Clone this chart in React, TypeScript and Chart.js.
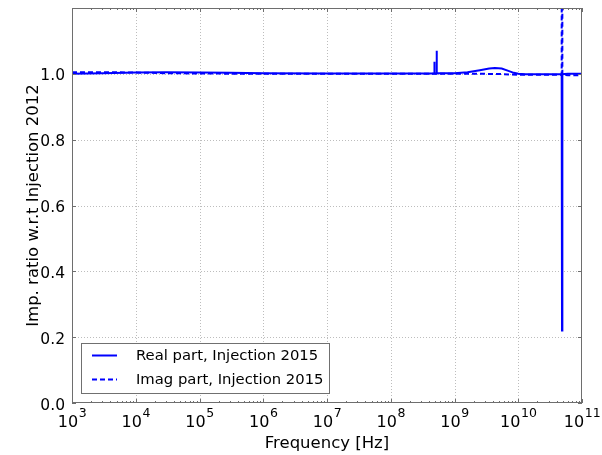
import React, { useEffect, useRef } from "react";
import { Chart, registerables } from "chart.js";

Chart.register(...registerables);

// Real part of the impedance ratio (frequency in Hz)
const realFreq = [
  1e3, 3e3, 1e4, 3e4, 1e5, 3e5, 1e6, 1e7, 1e8, 4.8e8, 4.82e8, 4.85e8, 4.88e8,
  5.2e8, 5.23e8, 5.27e8, 5.3e8, 1e9, 1.6e9, 2.5e9, 3.5e9, 4.3e9, 5.5e9, 7e9,
  8.5e9, 1e10, 1.3e10, 2e10, 4.8e10, 4.86e10, 4.92e10, 6e10, 1e11,
];
const realRatio = [
  1.0, 1.002, 1.004, 1.005, 1.004, 1.003, 1.002, 1.001, 1.001, 1.001, 1.037,
  1.037, 1.001, 1.001, 1.07, 1.07, 1.002, 1.002, 1.005, 1.011, 1.016, 1.018,
  1.016, 1.009, 1.003, 1.0, 0.999, 0.999, 0.999, 0.22, 0.999, 1.0, 1.0,
];

// Imaginary part of the impedance ratio
const imagFreq = [
  1e3, 3e3, 1e4, 3e4, 1e5, 1e6, 1e7, 1e8, 1e9, 3e9, 6e9, 1e10, 2e10, 4.8e10,
  4.86e10, 4.92e10, 6e10, 1e11,
];
const imagRatio = [
  1.005, 1.005, 1.004, 1.002, 1.001, 1.0, 1.0, 1.0, 1.0, 1.0, 0.999, 0.997,
  0.997, 0.997, 5.0, 0.997, 0.996, 0.996,
];

const seriesLabels = ["Real part, Injection 2015", "Imag part, Injection 2015"];
const xDecades = [3, 4, 5, 6, 7, 8, 9, 10, 11];
const yTicks = [0, 0.2, 0.4, 0.6, 0.8, 1.0];
const yTickLabels = ["0.0", "0.2", "0.4", "0.6", "0.8", "1.0"];
const xTitle = "Frequency [Hz]";
const yTitle = "Imp. ratio w.r.t Injection 2012";

const FONT = '"DejaVu Sans", sans-serif';
const LINE_BLUE = "#0000ff";
const FRAME = "#6e6e6e";
const IMAG_DASH = [5, 3];

// Matplotlib-like axes: dotted grid, boxed frame, inward ticks,
// superscript decade labels and an in-axes legend.
const axesDecor = {
  id: "axesDecor",
  beforeDatasetsDraw(chart: any) {
    const { ctx, chartArea: a, scales } = chart;
    const x = scales.x;
    const y = scales.y;
    ctx.save();
    ctx.strokeStyle = "#bdbdbd";
    ctx.lineWidth = 1;
    ctx.setLineDash([1, 2]);
    for (const n of xDecades) {
      const px = Math.round(x.getPixelForValue(Math.pow(10, n))) + 0.5;
      if (px <= a.left + 1 || px >= a.right - 1) continue;
      ctx.beginPath();
      ctx.moveTo(px, a.top);
      ctx.lineTo(px, a.bottom);
      ctx.stroke();
    }
    for (const v of yTicks) {
      const py = Math.round(y.getPixelForValue(v)) + 0.5;
      if (py <= a.top + 1 || py >= a.bottom - 1) continue;
      ctx.beginPath();
      ctx.moveTo(a.left, py);
      ctx.lineTo(a.right, py);
      ctx.stroke();
    }
    ctx.restore();
  },
  afterDatasetsDraw(chart: any) {
    const { ctx, chartArea: a, scales } = chart;
    const x = scales.x;
    const y = scales.y;
    ctx.save();

    // frame
    ctx.strokeStyle = FRAME;
    ctx.lineWidth = 1;
    ctx.setLineDash([]);
    ctx.strokeRect(a.left + 0.5, a.top + 0.5, a.right - a.left - 1, a.bottom - a.top - 1);

    // x ticks (major on decades, minor 2..9)
    const tick = (x0: number, y0: number, x1: number, y1: number) => {
      ctx.beginPath();
      ctx.moveTo(x0, y0);
      ctx.lineTo(x1, y1);
      ctx.stroke();
    };
    for (let i = 0; i < xDecades.length; i++) {
      const n = xDecades[i];
      const px = Math.round(x.getPixelForValue(Math.pow(10, n))) + 0.5;
      tick(px, a.bottom, px, a.bottom - 4);
      tick(px, a.top, px, a.top + 4);
      if (i < xDecades.length - 1) {
        for (let m = 2; m <= 9; m++) {
          const mx = Math.round(x.getPixelForValue(m * Math.pow(10, n))) + 0.5;
          tick(mx, a.bottom, mx, a.bottom - 2);
          tick(mx, a.top, mx, a.top + 2);
        }
      }
    }
    for (const v of yTicks) {
      const py = Math.round(y.getPixelForValue(v)) + 0.5;
      tick(a.left, py, a.left + 4, py);
      tick(a.right, py, a.right - 4, py);
    }

    // y tick labels
    ctx.fillStyle = "#000";
    ctx.font = `15.5px ${FONT}`;
    ctx.textAlign = "right";
    ctx.textBaseline = "alphabetic";
    yTicks.forEach((v, i) => {
      const py = y.getPixelForValue(v);
      ctx.fillText(yTickLabels[i], a.left - 7, py + 6.5);
    });

    // x tick labels: 10^n
    const baseFont = `16px ${FONT}`;
    const supFont = `12.5px ${FONT}`;
    for (const n of xDecades) {
      const px = x.getPixelForValue(Math.pow(10, n));
      ctx.font = baseFont;
      const wb = ctx.measureText("10").width;
      ctx.font = supFont;
      const exp = String(n);
      const we = ctx.measureText(exp).width;
      const left = px - (wb + we) / 2;
      ctx.textAlign = "left";
      ctx.font = baseFont;
      ctx.fillText("10", left, a.bottom + 24);
      ctx.font = supFont;
      ctx.fillText(exp, left + wb + 0.5, a.bottom + 14);
    }

    // axis titles
    ctx.font = `16.5px ${FONT}`;
    ctx.textAlign = "center";
    ctx.fillText(xTitle, (a.left + a.right) / 2, a.bottom + 45);
    ctx.save();
    ctx.translate(38, (a.top + a.bottom) / 2);
    ctx.rotate(-Math.PI / 2);
    ctx.fillText(yTitle, 0, 0);
    ctx.restore();

    // legend
    const lx = a.left + 9;
    const ly = a.bottom - 60;
    const lw = 248;
    const lh = 50;
    ctx.fillStyle = "#fff";
    ctx.fillRect(lx, ly, lw, lh);
    ctx.strokeStyle = "#707070";
    ctx.lineWidth = 1;
    ctx.strokeRect(lx + 0.5, ly + 0.5, lw, lh);
    const rows = [ly + 12.5, ly + 36.5];
    chart.data.datasets.forEach((ds: any, i: number) => {
      ctx.strokeStyle = ds.borderColor;
      ctx.lineWidth = 2;
      ctx.setLineDash(ds.borderDash || []);
      ctx.beginPath();
      ctx.moveTo(lx + 11, rows[i]);
      ctx.lineTo(lx + 36, rows[i]);
      ctx.stroke();
      ctx.setLineDash([]);
      ctx.fillStyle = "#000";
      ctx.font = `14.8px ${FONT}`;
      ctx.textAlign = "left";
      ctx.textBaseline = "middle";
      ctx.fillText(ds.label, lx + 55, rows[i] + 1);
    });

    ctx.restore();
  },
};

export default function App() {
  const canvasRef = useRef<HTMLCanvasElement | null>(null);

  useEffect(() => {
    const canvas = canvasRef.current;
    if (!canvas) return;
    const chart = new Chart(canvas, {
      type: "scatter",
      data: {
        datasets: [
          {
            label: seriesLabels[0],
            data: realFreq.map((f, i) => ({ x: f, y: realRatio[i] })),
            borderColor: LINE_BLUE,
            backgroundColor: LINE_BLUE,
            borderWidth: 2,
            pointRadius: 0,
            showLine: true,
            fill: false,
            tension: 0,
          },
          {
            label: seriesLabels[1],
            data: imagFreq.map((f, i) => ({ x: f, y: imagRatio[i] })),
            borderColor: LINE_BLUE,
            backgroundColor: LINE_BLUE,
            borderWidth: 2,
            borderDash: IMAG_DASH,
            pointRadius: 0,
            showLine: true,
            fill: false,
            tension: 0,
          },
        ],
      },
      options: {
        animation: false,
        responsive: true,
        maintainAspectRatio: false,
        layout: { padding: { left: 72, right: 20, top: 8, bottom: 52 } },
        plugins: {
          legend: { display: false },
          tooltip: { enabled: false },
        },
        scales: {
          x: { type: "logarithmic", min: 1e3, max: 1e11, display: false },
          y: { type: "linear", min: 0, max: 1.2, display: false },
        },
      },
      plugins: [axesDecor],
    });
    return () => chart.destroy();
  }, []);

  return (
    <div
      style={{
        position: "fixed",
        left: 0,
        top: 0,
        width: 602,
        height: 455,
        background: "#fff",
      }}
    >
      <canvas ref={canvasRef} />
    </div>
  );
}
